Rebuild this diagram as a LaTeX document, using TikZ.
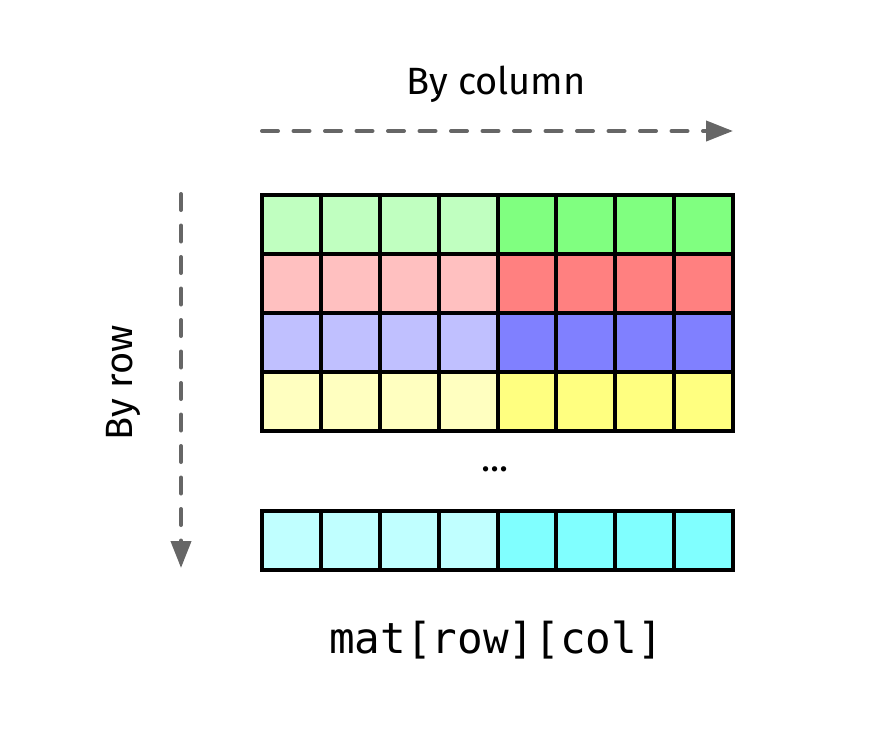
\documentclass[tikz,border=0pt]{standalone}
\usepackage{fontspec}
\setmainfont{Fira Sans}
\setmonofont{DejaVu Sans Mono}
\usepackage{tikz}
\usetikzlibrary{positioning,arrows.meta}
\definecolor{arrowgray}{HTML}{666666}
\definecolor{greenlite}{HTML}{C0FFC0}
\definecolor{greendark}{HTML}{80FF80}
\definecolor{redlite}{HTML}{FFC0C0}
\definecolor{reddark}{HTML}{FF8080}
\definecolor{bluelite}{HTML}{C0C0FF}
\definecolor{bluedark}{HTML}{8080FF}
\definecolor{yellowlite}{HTML}{FFFFC0}
\definecolor{yellowdark}{HTML}{FFFF80}
\definecolor{cyanlite}{HTML}{C0FFFF}
\definecolor{cyandark}{HTML}{80FFFF}

\begin{document}
\begin{tikzpicture}[x=0.5pt,y=-0.5pt,
    cell/.style={draw,line width=2pt,minimum size=29.44pt,inner sep=0pt,outer sep=0pt,anchor=north west},
    flow/.style={draw=arrowgray,line width=2pt,dash pattern=on 8pt off 7.75pt,line cap=round,
        -{Triangle[length=13.5pt,width=10pt]}},
    caption/.style={font=\fontsize{19}{22}\selectfont}]

    \useasboundingbox (0,0) rectangle (888,750);

    % the matrix rows
    \foreach \r/\lite/\dark in {0/greenlite/greendark,1/redlite/reddark,2/bluelite/bluedark,3/yellowlite/yellowdark}{
        \foreach \c in {0,...,3}
            \node[cell,fill=\lite] (m\r\c) at ({262+\c*58.875},{195+\r*58.875}) {};
        \foreach \c in {4,...,7}
            \node[cell,fill=\dark] (m\r\c) at ({262+\c*58.875},{195+\r*58.875}) {};
    }
    % last row
    \foreach \c in {0,...,3}
        \node[cell,fill=cyanlite] (b\c) at ({262+\c*58.875},511) {};
    \foreach \c in {4,...,7}
        \node[cell,fill=cyandark] (b\c) at ({262+\c*58.875},511) {};

    \node[caption] (dots) at (495,469) {...};

    % directions
    \coordinate (colstart) at (262,131);
    \coordinate (colend) at (733,131);
    \coordinate (rowstart) at (181,194);
    \coordinate (rowend) at (181,568);
    \draw[flow] (colstart) -- (colend);
    \draw[flow] (rowstart) -- (rowend);

    \node[caption] (bycol) at (496,84) {By column};
    \node[caption,rotate=90] (byrow) at (123,383) {By row};

    \node[font=\ttfamily\fontsize{21.3}{25}\selectfont] (access) at (496,640) {mat[row][col]};

\end{tikzpicture}
\end{document}
